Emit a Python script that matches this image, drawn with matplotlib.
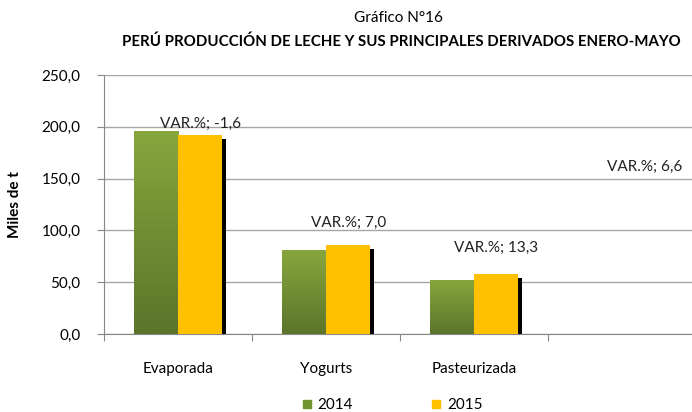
import matplotlib.pyplot as plt
import numpy as np
from matplotlib.colors import LinearSegmentedColormap

categorias = ['Evaporada', 'Yogurts', 'Pasteurizada', '']
prod_2014 = [195.0, 80.2, 51.2, 0.0]
prod_2015 = [191.9, 85.8, 58.0, 0.0]
etiquetas = ['VAR.%; -1,6', 'VAR.%; 7,0', 'VAR.%; 13,3', 'VAR.%; 6,6']
# altura de cada etiqueta (miles de t)
alto_etiqueta = [203, 107, 83, 161]

plt.rcParams['font.family'] = ['Lato', 'DejaVu Sans']

fig = plt.figure(figsize=(6.92, 4.12), dpi=100)
ax = fig.add_axes([104 / 692, 1 - 334 / 412, 592 / 692, 259 / 412])

x = np.arange(len(categorias))
ancho = 0.30
verde = LinearSegmentedColormap.from_list('verde', ['#5c752b', '#87a63d'])
grad = np.linspace(0, 1, 100).reshape(-1, 1)

# sombra (desplazada unos pixeles)
dx, dy = 0.027, -3.8
for i in x:
    for off, v in ((-ancho / 2, prod_2014[i]), (ancho / 2, prod_2015[i])):
        if v > 0:
            ax.bar(i + off + dx, v, ancho, bottom=dy, color='black', zorder=2)

for i in x:
    v = prod_2014[i]
    if v > 0:
        ax.imshow(grad, cmap=verde, origin='lower', aspect='auto',
                  extent=(i - ancho, i, 0, v), zorder=3)
ax.bar(x - ancho / 2, prod_2014, ancho, color='none', zorder=3)
ax.bar(x + ancho / 2, prod_2015, ancho, color='#ffc000', zorder=4)

for i, t in enumerate(etiquetas):
    ax.text(i + 0.15, alto_etiqueta[i], t, ha='center', va='center',
            fontsize=11, color='#222222', zorder=5)

ax.set_xlim(-0.5, 3.5)
ax.set_ylim(0, 250)
ax.set_yticks(np.arange(0, 251, 50))
ax.set_yticklabels([f'{v:.1f}'.replace('.', ',') for v in np.arange(0, 251, 50)],
                   fontsize=11)
ax.yaxis.grid(True, color='#a6a6a6', linewidth=1)
ax.set_axisbelow(True)
ax.set_xticks(np.arange(-0.5, 3.6, 1))
ax.set_xticklabels([])
ax.set_xticks(x, minor=True)
ax.set_xticklabels(categorias, minor=True, fontsize=11)
ax.tick_params(axis='x', which='minor', length=0, pad=20)
ax.tick_params(axis='x', which='major', length=5, color='#888888')
ax.tick_params(axis='y', length=5, color='#888888', pad=12)
for s in ('top', 'right'):
    ax.spines[s].set_visible(False)
for s in ('left', 'bottom'):
    ax.spines[s].set_color('#888888')

ax.set_ylabel('Miles de t', fontsize=11, fontweight='bold', labelpad=14)

fig.text(398 / 692, 1 - 18 / 412, 'Gráfico N°16', ha='center', va='center', fontsize=11)
fig.text(401 / 692, 1 - 42 / 412,
         'PERÚ PRODUCCIÓN DE LECHE Y SUS PRINCIPALES DERIVADOS ENERO-MAYO',
         ha='center', va='center', fontsize=10.8, fontweight='bold')

# leyenda
fig.patches.append(plt.Rectangle((303 / 692, 1 - 408 / 412), 8 / 692, 8 / 412,
                                 color='#739232', transform=fig.transFigure))
fig.text(317 / 692, 1 - 405 / 412, '2014', va='center', fontsize=11)
fig.patches.append(plt.Rectangle((432 / 692, 1 - 408 / 412), 8 / 692, 8 / 412,
                                 color='#ffc000', transform=fig.transFigure))
fig.text(447 / 692, 1 - 405 / 412, '2015', va='center', fontsize=11)

fig.savefig('out.png', dpi=100)
